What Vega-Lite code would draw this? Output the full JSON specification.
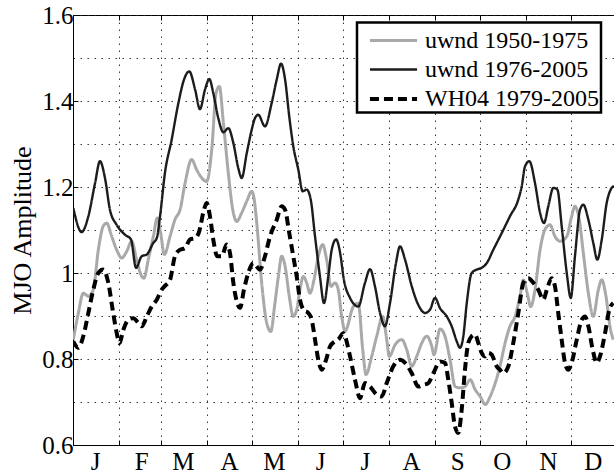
{
  "$schema": "https://vega.github.io/schema/vega-lite/v6.json",
  "width": 541,
  "height": 430,
  "autosize": "none",
  "padding": {"left": 73, "top": 15, "right": 0, "bottom": 28},
  "background": "white",
  "config": {
    "view": {"stroke": "black", "strokeWidth": 1},
    "font": "Liberation Serif",
    "legend": {
      "title": null, "orient": "none", "legendX": 284, "legendY": 7.5,
      "labelFont": "Liberation Serif", "labelFontSize": 24, "labelColor": "black", "labelLimit": 300,
      "symbolType": "M-1.57,0H1.57", "symbolSize": 900, "symbolOffset": 18,
      "labelOffset": 14.5, "rowPadding": 0, "padding": 1.5,
      "strokeColor": "black", "fillColor": "white"
    }
  },
  "data": {"values": [
{"s":"uwnd 1950-1975","d":0.2,"v":0.845},{"s":"uwnd 1950-1975","d":3.6,"v":0.907},{"s":"uwnd 1950-1975","d":6.9,"v":0.953},{"s":"uwnd 1950-1975","d":10.3,"v":0.946},{"s":"uwnd 1950-1975","d":13.6,"v":0.961},{"s":"uwnd 1950-1975","d":17.0,"v":1.054},{"s":"uwnd 1950-1975","d":20.3,"v":1.109},{"s":"uwnd 1950-1975","d":22.6,"v":1.116},{"s":"uwnd 1950-1975","d":26.0,"v":1.085},{"s":"uwnd 1950-1975","d":29.3,"v":1.054},{"s":"uwnd 1950-1975","d":32.7,"v":1.035},{"s":"uwnd 1950-1975","d":36.0,"v":1.05},{"s":"uwnd 1950-1975","d":39.4,"v":1.074},{"s":"uwnd 1950-1975","d":42.7,"v":1.031},{"s":"uwnd 1950-1975","d":46.1,"v":0.992},{"s":"uwnd 1950-1975","d":47.6,"v":0.988},{"s":"uwnd 1950-1975","d":50.5,"v":1.031},{"s":"uwnd 1950-1975","d":53.9,"v":1.085},{"s":"uwnd 1950-1975","d":56.6,"v":1.128},{"s":"uwnd 1950-1975","d":58.8,"v":1.093},{"s":"uwnd 1950-1975","d":61.3,"v":1.043},{"s":"uwnd 1950-1975","d":65.1,"v":1.085},{"s":"uwnd 1950-1975","d":68.4,"v":1.124},{"s":"uwnd 1950-1975","d":71.8,"v":1.147},{"s":"uwnd 1950-1975","d":75.2,"v":1.209},{"s":"uwnd 1950-1975","d":79.6,"v":1.264},{"s":"uwnd 1950-1975","d":83.0,"v":1.24},{"s":"uwnd 1950-1975","d":86.4,"v":1.221},{"s":"uwnd 1950-1975","d":89.7,"v":1.213},{"s":"uwnd 1950-1975","d":93.1,"v":1.287},{"s":"uwnd 1950-1975","d":96.0,"v":1.419},{"s":"uwnd 1950-1975","d":98.2,"v":1.434},{"s":"uwnd 1950-1975","d":100.9,"v":1.349},{"s":"uwnd 1950-1975","d":104.2,"v":1.233},{"s":"uwnd 1950-1975","d":107.2,"v":1.147},{"s":"uwnd 1950-1975","d":109.8,"v":1.12},{"s":"uwnd 1950-1975","d":113.2,"v":1.14},{"s":"uwnd 1950-1975","d":116.6,"v":1.167},{"s":"uwnd 1950-1975","d":119.9,"v":1.19},{"s":"uwnd 1950-1975","d":121.4,"v":1.175},{"s":"uwnd 1950-1975","d":123.3,"v":1.116},{"s":"uwnd 1950-1975","d":126.6,"v":0.977},{"s":"uwnd 1950-1975","d":130.0,"v":0.884},{"s":"uwnd 1950-1975","d":132.7,"v":0.864},{"s":"uwnd 1950-1975","d":135.5,"v":0.93},{"s":"uwnd 1950-1975","d":137.8,"v":0.992},{"s":"uwnd 1950-1975","d":140.0,"v":1.039},{"s":"uwnd 1950-1975","d":142.3,"v":1.016},{"s":"uwnd 1950-1975","d":145.1,"v":0.946},{"s":"uwnd 1950-1975","d":147.8,"v":0.899},{"s":"uwnd 1950-1975","d":150.1,"v":0.915},{"s":"uwnd 1950-1975","d":152.3,"v":0.961},{"s":"uwnd 1950-1975","d":154.5,"v":0.992},{"s":"uwnd 1950-1975","d":156.8,"v":0.977},{"s":"uwnd 1950-1975","d":159.0,"v":0.953},{"s":"uwnd 1950-1975","d":161.7,"v":0.984},{"s":"uwnd 1950-1975","d":164.6,"v":1.039},{"s":"uwnd 1950-1975","d":167.5,"v":1.066},{"s":"uwnd 1950-1975","d":170.2,"v":1.031},{"s":"uwnd 1950-1975","d":173.1,"v":0.969},{"s":"uwnd 1950-1975","d":175.8,"v":0.977},{"s":"uwnd 1950-1975","d":178.0,"v":0.961},{"s":"uwnd 1950-1975","d":180.3,"v":0.899},{"s":"uwnd 1950-1975","d":182.5,"v":0.865},{"s":"uwnd 1950-1975","d":188.1,"v":0.922},{"s":"uwnd 1950-1975","d":191.4,"v":0.93},{"s":"uwnd 1950-1975","d":194.4,"v":0.822},{"s":"uwnd 1950-1975","d":196.6,"v":0.764},{"s":"uwnd 1950-1975","d":200.4,"v":0.806},{"s":"uwnd 1950-1975","d":203.8,"v":0.853},{"s":"uwnd 1950-1975","d":207.8,"v":0.899},{"s":"uwnd 1950-1975","d":210.5,"v":0.845},{"s":"uwnd 1950-1975","d":212.2,"v":0.806},{"s":"uwnd 1950-1975","d":216.1,"v":0.833},{"s":"uwnd 1950-1975","d":220.6,"v":0.845},{"s":"uwnd 1950-1975","d":223.9,"v":0.822},{"s":"uwnd 1950-1975","d":227.3,"v":0.783},{"s":"uwnd 1950-1975","d":230.6,"v":0.806},{"s":"uwnd 1950-1975","d":234.0,"v":0.837},{"s":"uwnd 1950-1975","d":237.3,"v":0.853},{"s":"uwnd 1950-1975","d":240.7,"v":0.83},{"s":"uwnd 1950-1975","d":242.2,"v":0.81},{"s":"uwnd 1950-1975","d":246.3,"v":0.87},{"s":"uwnd 1950-1975","d":249.6,"v":0.853},{"s":"uwnd 1950-1975","d":253.0,"v":0.798},{"s":"uwnd 1950-1975","d":256.4,"v":0.736},{"s":"uwnd 1950-1975","d":259.7,"v":0.733},{"s":"uwnd 1950-1975","d":263.1,"v":0.736},{"s":"uwnd 1950-1975","d":266.5,"v":0.752},{"s":"uwnd 1950-1975","d":269.8,"v":0.729},{"s":"uwnd 1950-1975","d":273.2,"v":0.713},{"s":"uwnd 1950-1975","d":276.6,"v":0.694},{"s":"uwnd 1950-1975","d":279.9,"v":0.713},{"s":"uwnd 1950-1975","d":283.3,"v":0.744},{"s":"uwnd 1950-1975","d":286.5,"v":0.783},{"s":"uwnd 1950-1975","d":289.9,"v":0.837},{"s":"uwnd 1950-1975","d":293.2,"v":0.876},{"s":"uwnd 1950-1975","d":296.6,"v":0.899},{"s":"uwnd 1950-1975","d":299.9,"v":0.946},{"s":"uwnd 1950-1975","d":302.2,"v":0.984},{"s":"uwnd 1950-1975","d":304.8,"v":0.953},{"s":"uwnd 1950-1975","d":307.1,"v":0.922},{"s":"uwnd 1950-1975","d":310.0,"v":0.961},{"s":"uwnd 1950-1975","d":313.4,"v":1.054},{"s":"uwnd 1950-1975","d":316.7,"v":1.101},{"s":"uwnd 1950-1975","d":320.1,"v":1.112},{"s":"uwnd 1950-1975","d":323.4,"v":1.085},{"s":"uwnd 1950-1975","d":326.8,"v":1.074},{"s":"uwnd 1950-1975","d":331.3,"v":1.085},{"s":"uwnd 1950-1975","d":334.6,"v":1.132},{"s":"uwnd 1950-1975","d":336.8,"v":1.155},{"s":"uwnd 1950-1975","d":339.7,"v":1.124},{"s":"uwnd 1950-1975","d":342.4,"v":1.047},{"s":"uwnd 1950-1975","d":345.8,"v":0.953},{"s":"uwnd 1950-1975","d":349.1,"v":0.899},{"s":"uwnd 1950-1975","d":352.5,"v":0.961},{"s":"uwnd 1950-1975","d":354.8,"v":0.984},{"s":"uwnd 1950-1975","d":357.6,"v":0.946},{"s":"uwnd 1950-1975","d":360.3,"v":0.876},{"s":"uwnd 1950-1975","d":362.5,"v":0.845},
{"s":"uwnd 1976-2005","d":0.2,"v":1.151},{"s":"uwnd 1976-2005","d":5.8,"v":1.095},{"s":"uwnd 1976-2005","d":10.3,"v":1.132},{"s":"uwnd 1976-2005","d":14.8,"v":1.209},{"s":"uwnd 1976-2005","d":18.1,"v":1.26},{"s":"uwnd 1976-2005","d":21.5,"v":1.22},{"s":"uwnd 1976-2005","d":24.8,"v":1.147},{"s":"uwnd 1976-2005","d":29.3,"v":1.112},{"s":"uwnd 1976-2005","d":34.9,"v":1.089},{"s":"uwnd 1976-2005","d":38.9,"v":1.078},{"s":"uwnd 1976-2005","d":42.3,"v":1.012},{"s":"uwnd 1976-2005","d":46.1,"v":1.039},{"s":"uwnd 1976-2005","d":49.5,"v":1.043},{"s":"uwnd 1976-2005","d":53.9,"v":1.07},{"s":"uwnd 1976-2005","d":56.2,"v":1.081},{"s":"uwnd 1976-2005","d":58.4,"v":1.132},{"s":"uwnd 1976-2005","d":61.7,"v":1.233},{"s":"uwnd 1976-2005","d":66.2,"v":1.31},{"s":"uwnd 1976-2005","d":70.7,"v":1.395},{"s":"uwnd 1976-2005","d":74.5,"v":1.45},{"s":"uwnd 1976-2005","d":78.0,"v":1.469},{"s":"uwnd 1976-2005","d":81.9,"v":1.427},{"s":"uwnd 1976-2005","d":85.2,"v":1.381},{"s":"uwnd 1976-2005","d":88.6,"v":1.427},{"s":"uwnd 1976-2005","d":91.5,"v":1.451},{"s":"uwnd 1976-2005","d":94.1,"v":1.419},{"s":"uwnd 1976-2005","d":97.5,"v":1.36},{"s":"uwnd 1976-2005","d":100.9,"v":1.327},{"s":"uwnd 1976-2005","d":104.2,"v":1.337},{"s":"uwnd 1976-2005","d":107.6,"v":1.302},{"s":"uwnd 1976-2005","d":110.9,"v":1.244},{"s":"uwnd 1976-2005","d":113.2,"v":1.221},{"s":"uwnd 1976-2005","d":116.6,"v":1.279},{"s":"uwnd 1976-2005","d":119.9,"v":1.333},{"s":"uwnd 1976-2005","d":122.1,"v":1.36},{"s":"uwnd 1976-2005","d":124.3,"v":1.368},{"s":"uwnd 1976-2005","d":128.8,"v":1.341},{"s":"uwnd 1976-2005","d":133.3,"v":1.395},{"s":"uwnd 1976-2005","d":136.7,"v":1.45},{"s":"uwnd 1976-2005","d":139.6,"v":1.487},{"s":"uwnd 1976-2005","d":142.3,"v":1.45},{"s":"uwnd 1976-2005","d":145.1,"v":1.364},{"s":"uwnd 1976-2005","d":147.8,"v":1.295},{"s":"uwnd 1976-2005","d":151.2,"v":1.24},{"s":"uwnd 1976-2005","d":154.1,"v":1.19},{"s":"uwnd 1976-2005","d":156.8,"v":1.194},{"s":"uwnd 1976-2005","d":159.5,"v":1.171},{"s":"uwnd 1976-2005","d":162.4,"v":1.085},{"s":"uwnd 1976-2005","d":165.7,"v":0.992},{"s":"uwnd 1976-2005","d":168.4,"v":0.93},{"s":"uwnd 1976-2005","d":171.3,"v":0.992},{"s":"uwnd 1976-2005","d":173.6,"v":1.054},{"s":"uwnd 1976-2005","d":176.5,"v":1.078},{"s":"uwnd 1976-2005","d":179.6,"v":1.039},{"s":"uwnd 1976-2005","d":181.4,"v":0.992},{"s":"uwnd 1976-2005","d":185.9,"v":0.942},{"s":"uwnd 1976-2005","d":191.4,"v":0.922},{"s":"uwnd 1976-2005","d":195.9,"v":0.977},{"s":"uwnd 1976-2005","d":199.3,"v":1.009},{"s":"uwnd 1976-2005","d":202.6,"v":0.969},{"s":"uwnd 1976-2005","d":206.0,"v":0.907},{"s":"uwnd 1976-2005","d":209.3,"v":0.876},{"s":"uwnd 1976-2005","d":212.7,"v":0.93},{"s":"uwnd 1976-2005","d":216.7,"v":1.023},{"s":"uwnd 1976-2005","d":219.4,"v":1.062},{"s":"uwnd 1976-2005","d":222.8,"v":1.031},{"s":"uwnd 1976-2005","d":227.3,"v":0.969},{"s":"uwnd 1976-2005","d":231.7,"v":0.926},{"s":"uwnd 1976-2005","d":236.2,"v":0.907},{"s":"uwnd 1976-2005","d":239.6,"v":0.915},{"s":"uwnd 1976-2005","d":242.9,"v":0.942},{"s":"uwnd 1976-2005","d":246.3,"v":0.918},{"s":"uwnd 1976-2005","d":250.8,"v":0.899},{"s":"uwnd 1976-2005","d":254.1,"v":0.876},{"s":"uwnd 1976-2005","d":257.5,"v":0.841},{"s":"uwnd 1976-2005","d":259.7,"v":0.826},{"s":"uwnd 1976-2005","d":261.9,"v":0.853},{"s":"uwnd 1976-2005","d":264.2,"v":0.93},{"s":"uwnd 1976-2005","d":267.5,"v":1.0},{"s":"uwnd 1976-2005","d":270.9,"v":1.008},{"s":"uwnd 1976-2005","d":274.2,"v":1.012},{"s":"uwnd 1976-2005","d":277.6,"v":1.023},{"s":"uwnd 1976-2005","d":282.0,"v":1.054},{"s":"uwnd 1976-2005","d":287.7,"v":1.093},{"s":"uwnd 1976-2005","d":293.2,"v":1.132},{"s":"uwnd 1976-2005","d":298.8,"v":1.171},{"s":"uwnd 1976-2005","d":301.1,"v":1.202},{"s":"uwnd 1976-2005","d":303.3,"v":1.248},{"s":"uwnd 1976-2005","d":306.2,"v":1.26},{"s":"uwnd 1976-2005","d":310.0,"v":1.209},{"s":"uwnd 1976-2005","d":313.4,"v":1.14},{"s":"uwnd 1976-2005","d":316.0,"v":1.116},{"s":"uwnd 1976-2005","d":318.9,"v":1.155},{"s":"uwnd 1976-2005","d":322.3,"v":1.198},{"s":"uwnd 1976-2005","d":325.0,"v":1.194},{"s":"uwnd 1976-2005","d":327.9,"v":1.109},{"s":"uwnd 1976-2005","d":331.3,"v":1.0},{"s":"uwnd 1976-2005","d":334.0,"v":0.942},{"s":"uwnd 1976-2005","d":336.8,"v":1.039},{"s":"uwnd 1976-2005","d":340.2,"v":1.147},{"s":"uwnd 1976-2005","d":342.4,"v":1.159},{"s":"uwnd 1976-2005","d":345.8,"v":1.124},{"s":"uwnd 1976-2005","d":349.1,"v":1.07},{"s":"uwnd 1976-2005","d":351.8,"v":1.031},{"s":"uwnd 1976-2005","d":354.8,"v":1.078},{"s":"uwnd 1976-2005","d":358.1,"v":1.163},{"s":"uwnd 1976-2005","d":360.8,"v":1.194},{"s":"uwnd 1976-2005","d":363.0,"v":1.202},
{"s":"WH04 1979-2005","d":0.2,"v":0.841},{"s":"WH04 1979-2005","d":3.6,"v":0.826},{"s":"WH04 1979-2005","d":6.9,"v":0.853},{"s":"WH04 1979-2005","d":10.3,"v":0.907},{"s":"WH04 1979-2005","d":13.6,"v":0.961},{"s":"WH04 1979-2005","d":17.0,"v":1.0},{"s":"WH04 1979-2005","d":20.3,"v":1.008},{"s":"WH04 1979-2005","d":23.7,"v":0.977},{"s":"WH04 1979-2005","d":26.6,"v":0.915},{"s":"WH04 1979-2005","d":29.3,"v":0.861},{"s":"WH04 1979-2005","d":31.1,"v":0.837},{"s":"WH04 1979-2005","d":33.8,"v":0.868},{"s":"WH04 1979-2005","d":37.1,"v":0.891},{"s":"WH04 1979-2005","d":40.5,"v":0.895},{"s":"WH04 1979-2005","d":43.8,"v":0.884},{"s":"WH04 1979-2005","d":46.1,"v":0.876},{"s":"WH04 1979-2005","d":49.5,"v":0.899},{"s":"WH04 1979-2005","d":52.8,"v":0.922},{"s":"WH04 1979-2005","d":56.2,"v":0.938},{"s":"WH04 1979-2005","d":59.5,"v":0.961},{"s":"WH04 1979-2005","d":61.7,"v":0.97},{"s":"WH04 1979-2005","d":65.1,"v":0.984},{"s":"WH04 1979-2005","d":68.4,"v":1.039},{"s":"WH04 1979-2005","d":71.8,"v":1.054},{"s":"WH04 1979-2005","d":75.2,"v":1.058},{"s":"WH04 1979-2005","d":78.5,"v":1.078},{"s":"WH04 1979-2005","d":81.9,"v":1.081},{"s":"WH04 1979-2005","d":84.7,"v":1.097},{"s":"WH04 1979-2005","d":87.4,"v":1.14},{"s":"WH04 1979-2005","d":89.7,"v":1.163},{"s":"WH04 1979-2005","d":91.9,"v":1.132},{"s":"WH04 1979-2005","d":94.1,"v":1.078},{"s":"WH04 1979-2005","d":96.8,"v":1.039},{"s":"WH04 1979-2005","d":99.8,"v":1.039},{"s":"WH04 1979-2005","d":103.1,"v":1.066},{"s":"WH04 1979-2005","d":105.3,"v":1.047},{"s":"WH04 1979-2005","d":107.6,"v":0.977},{"s":"WH04 1979-2005","d":110.2,"v":0.93},{"s":"WH04 1979-2005","d":112.1,"v":0.919},{"s":"WH04 1979-2005","d":114.7,"v":0.961},{"s":"WH04 1979-2005","d":117.6,"v":1.0},{"s":"WH04 1979-2005","d":121.0,"v":1.023},{"s":"WH04 1979-2005","d":122.1,"v":1.02},{"s":"WH04 1979-2005","d":125.5,"v":1.008},{"s":"WH04 1979-2005","d":128.8,"v":1.039},{"s":"WH04 1979-2005","d":132.2,"v":1.085},{"s":"WH04 1979-2005","d":136.7,"v":1.124},{"s":"WH04 1979-2005","d":140.0,"v":1.155},{"s":"WH04 1979-2005","d":142.3,"v":1.147},{"s":"WH04 1979-2005","d":145.1,"v":1.093},{"s":"WH04 1979-2005","d":147.8,"v":1.039},{"s":"WH04 1979-2005","d":150.1,"v":0.992},{"s":"WH04 1979-2005","d":152.3,"v":0.938},{"s":"WH04 1979-2005","d":154.5,"v":0.915},{"s":"WH04 1979-2005","d":157.9,"v":0.907},{"s":"WH04 1979-2005","d":160.2,"v":0.891},{"s":"WH04 1979-2005","d":162.4,"v":0.845},{"s":"WH04 1979-2005","d":164.6,"v":0.798},{"s":"WH04 1979-2005","d":166.9,"v":0.775},{"s":"WH04 1979-2005","d":169.8,"v":0.798},{"s":"WH04 1979-2005","d":172.4,"v":0.829},{"s":"WH04 1979-2005","d":175.8,"v":0.841},{"s":"WH04 1979-2005","d":178.0,"v":0.845},{"s":"WH04 1979-2005","d":181.4,"v":0.86},{"s":"WH04 1979-2005","d":182.5,"v":0.853},{"s":"WH04 1979-2005","d":185.9,"v":0.806},{"s":"WH04 1979-2005","d":189.2,"v":0.752},{"s":"WH04 1979-2005","d":192.6,"v":0.709},{"s":"WH04 1979-2005","d":195.9,"v":0.744},{"s":"WH04 1979-2005","d":199.3,"v":0.736},{"s":"WH04 1979-2005","d":203.8,"v":0.717},{"s":"WH04 1979-2005","d":207.1,"v":0.713},{"s":"WH04 1979-2005","d":210.5,"v":0.744},{"s":"WH04 1979-2005","d":214.9,"v":0.783},{"s":"WH04 1979-2005","d":219.4,"v":0.798},{"s":"WH04 1979-2005","d":222.8,"v":0.791},{"s":"WH04 1979-2005","d":227.3,"v":0.767},{"s":"WH04 1979-2005","d":231.7,"v":0.736},{"s":"WH04 1979-2005","d":235.1,"v":0.74},{"s":"WH04 1979-2005","d":238.4,"v":0.744},{"s":"WH04 1979-2005","d":241.8,"v":0.767},{"s":"WH04 1979-2005","d":246.3,"v":0.794},{"s":"WH04 1979-2005","d":249.6,"v":0.791},{"s":"WH04 1979-2005","d":251.8,"v":0.752},{"s":"WH04 1979-2005","d":254.1,"v":0.698},{"s":"WH04 1979-2005","d":256.3,"v":0.643},{"s":"WH04 1979-2005","d":258.5,"v":0.628},{"s":"WH04 1979-2005","d":260.8,"v":0.682},{"s":"WH04 1979-2005","d":263.0,"v":0.775},{"s":"WH04 1979-2005","d":265.2,"v":0.837},{"s":"WH04 1979-2005","d":267.5,"v":0.853},{"s":"WH04 1979-2005","d":269.7,"v":0.857},{"s":"WH04 1979-2005","d":272.0,"v":0.837},{"s":"WH04 1979-2005","d":274.2,"v":0.814},{"s":"WH04 1979-2005","d":276.5,"v":0.806},{"s":"WH04 1979-2005","d":278.7,"v":0.814},{"s":"WH04 1979-2005","d":280.9,"v":0.81},{"s":"WH04 1979-2005","d":284.3,"v":0.783},{"s":"WH04 1979-2005","d":286.5,"v":0.775},{"s":"WH04 1979-2005","d":288.7,"v":0.767},{"s":"WH04 1979-2005","d":292.1,"v":0.783},{"s":"WH04 1979-2005","d":295.4,"v":0.837},{"s":"WH04 1979-2005","d":298.8,"v":0.907},{"s":"WH04 1979-2005","d":302.2,"v":0.977},{"s":"WH04 1979-2005","d":305.5,"v":0.988},{"s":"WH04 1979-2005","d":308.9,"v":0.977},{"s":"WH04 1979-2005","d":312.2,"v":0.961},{"s":"WH04 1979-2005","d":315.6,"v":0.938},{"s":"WH04 1979-2005","d":317.9,"v":0.961},{"s":"WH04 1979-2005","d":321.2,"v":0.988},{"s":"WH04 1979-2005","d":323.4,"v":0.969},{"s":"WH04 1979-2005","d":325.6,"v":0.907},{"s":"WH04 1979-2005","d":327.9,"v":0.845},{"s":"WH04 1979-2005","d":330.1,"v":0.791},{"s":"WH04 1979-2005","d":332.3,"v":0.775},{"s":"WH04 1979-2005","d":334.6,"v":0.791},{"s":"WH04 1979-2005","d":338.0,"v":0.845},{"s":"WH04 1979-2005","d":341.3,"v":0.891},{"s":"WH04 1979-2005","d":343.6,"v":0.899},{"s":"WH04 1979-2005","d":345.8,"v":0.876},{"s":"WH04 1979-2005","d":348.7,"v":0.822},{"s":"WH04 1979-2005","d":351.4,"v":0.791},{"s":"WH04 1979-2005","d":353.6,"v":0.806},{"s":"WH04 1979-2005","d":357.0,"v":0.86},{"s":"WH04 1979-2005","d":359.9,"v":0.915},{"s":"WH04 1979-2005","d":362.5,"v":0.93}
  ]},
  "layer": [
    {
      "mark": {"type": "line", "interpolate": "monotone", "clip": true},
      "encoding": {
        "x": {
          "field": "d", "type": "quantitative",
          "scale": {"domain": [0, 363], "nice": false, "zero": false},
          "axis": {
            "orient": "bottom",
            "title": null,
            "values": [0, 31, 59, 90, 120, 151, 181, 212, 243, 273, 304, 334],
            "labelExpr": "['J','F','M','A','M','J','J','A','S','O','N','D'][indexof([0,31,59,90,120,151,181,212,243,273,304,334], datum.value)]",
            "labelOffset": 22,
            "labelFont": "Liberation Serif", "labelFontSize": 25, "labelColor": "black",
            "labelPadding": 9, "labelFlush": false, "labelOverlap": false,
            "tickSize": -5, "tickColor": "black", "tickWidth": 1,
            "domainColor": "black", "domainWidth": 1,
            "grid": true, "gridColor": "#222", "gridDash": [1.5, 5.5], "gridWidth": 1, "gridOpacity": 0.9
          }
        },
        "y": {
          "field": "v", "type": "quantitative",
          "scale": {"domain": [0.6, 1.6], "nice": false, "zero": false},
          "axis": {
            "title": "MJO Amplitude",
            "titleFont": "Liberation Serif", "titleFontSize": 26, "titleFontWeight": "normal", "titleColor": "black", "titlePadding": 6,
            "values": [0.6, 0.7, 0.8, 0.9, 1.0, 1.1, 1.2, 1.3, 1.4, 1.5, 1.6],
            "labelExpr": "round(datum.value*10)%2==0 ? format(datum.value, '~g') : ''",
            "labelFont": "Liberation Serif", "labelFontSize": 25, "labelColor": "black", "labelPadding": 5,
            "labelFlush": false, "labelOverlap": false,
            "tickSize": -5,
            "tickColor": {"condition": {"test": "round(datum.value*10)%2==0", "value": "black"}, "value": "transparent"},
            "domainColor": "black", "domainWidth": 1,
            "grid": true, "gridColor": "#222", "gridDash": [1.5, 5.5], "gridWidth": 1, "gridOpacity": 0.9
          }
        },
        "color": {
          "field": "s", "type": "nominal",
          "scale": {"domain": ["uwnd 1950-1975", "uwnd 1976-2005", "WH04 1979-2005"], "range": ["#a9a9a9", "#1c1c1c", "#000000"]},
          "legend": {
            "labelExpr": "datum.label + '\u2002\u2009'",
            "encode": {"legend": {"update": {"strokeWidth": {"value": 2.5}}}}
          }
        },
        "strokeDash": {
          "field": "s", "type": "nominal",
          "scale": {"domain": ["uwnd 1950-1975", "uwnd 1976-2005", "WH04 1979-2005"], "range": [[1, 0], [1, 0], [9, 5]]},
          "legend": {
            "labelExpr": "datum.label + '\u2002\u2009'",
            "encode": {"legend": {"update": {"strokeWidth": {"value": 2.5}}}}
          }
        },
        "strokeWidth": {
          "field": "s", "type": "nominal",
          "scale": {"type": "ordinal", "domain": ["uwnd 1950-1975", "uwnd 1976-2005", "WH04 1979-2005"], "range": [3, 2.4, 4]},
          "legend": {
            "labelExpr": "datum.label + '\u2002\u2009'",
            "encode": {"legend": {"update": {"strokeWidth": {"value": 2.5}}}}
          }
        }
      }
    },
    {
      "mark": {"type": "rule", "strokeOpacity": 0},
      "encoding": {
        "x": {
          "field": "d", "type": "quantitative",
          "axis": {
            "orient": "top", "title": null, "labels": false, "grid": false, "domain": false,
            "values": [0, 31, 59, 90, 120, 151, 181, 212, 243, 273, 304, 334],
            "tickSize": -5, "tickColor": "black", "tickWidth": 1
          }
        }
      }
    }
  ],
  "resolve": {"axis": {"x": "independent"}}
}
